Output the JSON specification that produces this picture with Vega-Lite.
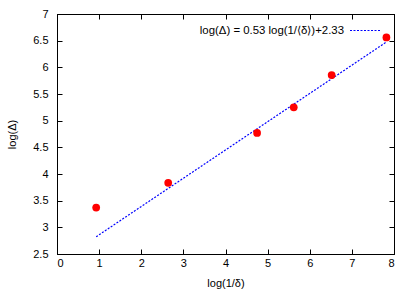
{
  "$schema": "https://vega.github.io/schema/vega-lite/v6.json",
  "width": 337,
  "height": 240,
  "autosize": {"type": "none"},
  "padding": {"left": 57, "top": 14, "right": 21, "bottom": 37},
  "background": "white",
  "config": {
    "font": "Liberation Sans",
    "view": {"stroke": "black", "strokeWidth": 1},
    "axis": {
      "grid": false,
      "domainColor": "black",
      "tickColor": "black",
      "tickSize": -5,
      "labelFontSize": 11,
      "labelColor": "black",
      "titleFontSize": 11,
      "titleFontWeight": "normal",
      "titleColor": "black",
      "labelFont": "Liberation Sans",
      "titleFont": "Liberation Sans"
    }
  },
  "datasets": {
    "pts": [
      {"x": 0.93, "y": 3.37},
      {"x": 2.64, "y": 3.835},
      {"x": 4.75, "y": 4.77},
      {"x": 5.62, "y": 5.25},
      {"x": 6.52, "y": 5.855},
      {"x": 7.82, "y": 6.56}
    ],
    "fit": [
      {"x": 0.93, "y": 2.823, "series": "log(Δ) = 0.53 log(1/⟨δ⟩)+2.33"},
      {"x": 7.82, "y": 6.475, "series": "log(Δ) = 0.53 log(1/⟨δ⟩)+2.33"}
    ]
  },
  "layer": [
    {
      "data": {"name": "fit"},
      "mark": {"type": "line", "strokeDash": [2, 1.5], "strokeWidth": 1.2},
      "encoding": {
        "x": {"field": "x", "type": "quantitative", "scale": {"domain": [0, 8]},
          "axis": {"title": "log(1/δ)", "values": [0,1,2,3,4,5,6,7,8], "labelPadding": 8, "titlePadding": 9}},
        "y": {"field": "y", "type": "quantitative", "scale": {"domain": [2.5, 7]},
          "axis": {"title": "log(Δ)", "values": [2.5,3,3.5,4,4.5,5,5.5,6,6.5,7], "labelPadding": 14, "titlePadding": 15, "format": "~g"}},
        "color": {"field": "series", "type": "nominal",
          "scale": {"range": ["#0000ff"]},
          "legend": {
            "title": null,
            "orient": "none",
            "legendX": 292,
            "legendY": 0,
            "symbolType": "stroke",
            "symbolSize": 961,
            "symbolDash": [2, 1.5],
            "symbolStrokeWidth": 1.2,
            "labelAlign": "right",
            "labelOffset": -38,
            "labelFontSize": 11.4,
            "labelColor": "black",
            "labelLimit": 400
          }}
      }
    },
    {
      "data": {"name": "pts"},
      "mark": {"type": "circle", "color": "#ff0000", "opacity": 1, "size": 60},
      "encoding": {
        "x": {"field": "x", "type": "quantitative",
          "axis": {"orient": "top", "labels": false, "title": null, "values": [0,1,2,3,4,5,6,7,8]}},
        "y": {"field": "y", "type": "quantitative",
          "axis": {"orient": "right", "labels": false, "title": null, "values": [2.5,3,3.5,4,4.5,5,5.5,6,6.5,7]}}
      }
    }
  ],
  "resolve": {"axis": {"x": "independent", "y": "independent"}}
}
